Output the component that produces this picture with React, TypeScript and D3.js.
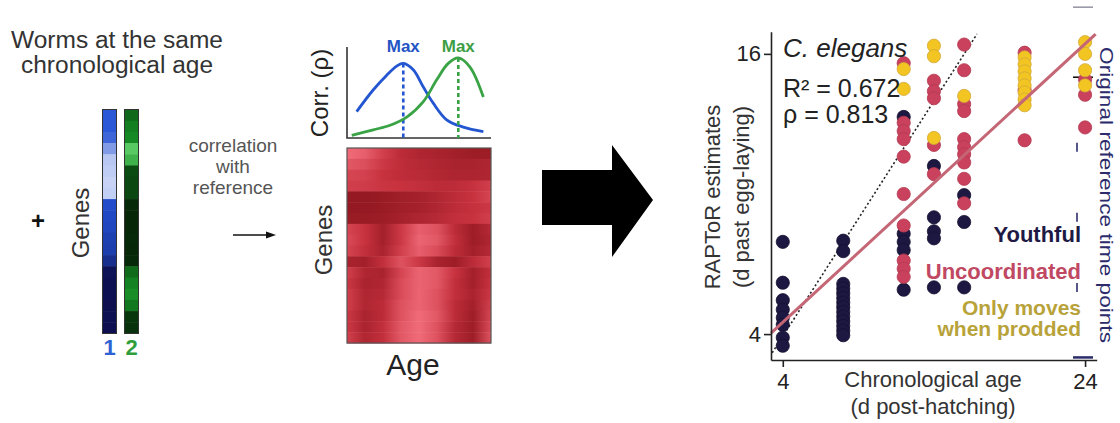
import * as d3 from 'd3'
import { useEffect, useRef } from 'react'

const FONT = "'Liberation Sans', Arial, Helvetica, sans-serif"

// gene expression strips of the two worms, top to bottom (0 = dark, 1 = light)
const worm1Expr = [0.52, 0.52, 0.57, 0.75, 0.9, 0.92, 0.94, 0.93, 0.46, 0.44, 0.42, 0.38, 0.36, 0.25, 0.05, 0.04, 0.04, 0.03, 0.04, 0.03]
const worm2Expr = [0.35, 0.45, 0.5, 0.85, 0.72, 0.22, 0.2, 0.2, 0.06, 0.05, 0.05, 0.06, 0.05, 0.06, 0.36, 0.46, 0.52, 0.42, 0.12, 0.1]

// schematic correlation profiles [age, rho]
const corrWorm1: [number, number][] = [
    [0.67, 0.29], [1.83, 0.53], [2.76, 0.69], [3.45, 0.79], [3.91, 0.82], [4.6, 0.75],
    [5.3, 0.56], [6.0, 0.38], [6.92, 0.2], [8.08, 0.12], [9.47, 0.07],
]
const corrWorm2: [number, number][] = [
    [0.33, 0.03], [1.83, 0.09], [2.99, 0.14], [4.15, 0.23], [5.3, 0.4], [6.23, 0.64],
    [7.03, 0.82], [7.73, 0.88], [8.54, 0.78], [9.47, 0.45],
]

// reference heatmap rows (genes) across age, 0 = dark red, 1 = light
const heatRows = [
    [0.95, 0.85, 0.6, 0.4, 0.3, 0.25, 0.2, 0.15, 0.15],
    [0.8, 0.72, 0.55, 0.42, 0.35, 0.3, 0.25, 0.25, 0.3],
    [0.65, 0.62, 0.5, 0.42, 0.38, 0.32, 0.28, 0.28, 0.3],
    [0.6, 0.58, 0.52, 0.5, 0.45, 0.4, 0.4, 0.48, 0.6],
    [0.08, 0.08, 0.12, 0.18, 0.22, 0.3, 0.4, 0.5, 0.65],
    [0.08, 0.08, 0.12, 0.18, 0.22, 0.3, 0.4, 0.48, 0.55],
    [0.12, 0.12, 0.15, 0.22, 0.28, 0.35, 0.45, 0.5, 0.6],
    [0.65, 0.5, 0.2, 0.55, 0.85, 0.75, 0.4, 0.15, 0.35],
    [0.7, 0.5, 0.2, 0.55, 0.9, 0.8, 0.45, 0.15, 0.3],
    [0.65, 0.45, 0.25, 0.6, 0.85, 0.7, 0.4, 0.2, 0.35],
    [0.25, 0.2, 0.45, 0.75, 0.55, 0.25, 0.15, 0.4, 0.6],
    [0.6, 0.3, 0.25, 0.65, 0.9, 0.8, 0.5, 0.2, 0.45],
    [0.55, 0.25, 0.3, 0.7, 0.9, 0.8, 0.45, 0.2, 0.5],
    [0.6, 0.3, 0.35, 0.7, 0.9, 0.75, 0.45, 0.25, 0.55],
    [0.6, 0.3, 0.4, 0.75, 0.9, 0.75, 0.4, 0.2, 0.6],
    [0.55, 0.25, 0.4, 0.75, 0.95, 0.8, 0.4, 0.15, 0.65],
    [0.55, 0.25, 0.45, 0.8, 0.95, 0.75, 0.35, 0.15, 0.7],
    [0.6, 0.3, 0.45, 0.8, 0.95, 0.75, 0.35, 0.15, 0.75],
]

// RAPToR estimates (d past egg-laying) by chronological age (d post-hatching)
const youthful: [number, number[]][] = [
    [4, [7.95, 6.2, 5.45, 5.05, 4.7, 4.4, 3.85, 3.5]],
    [8, [8.0, 7.55, 6.15, 5.95, 5.75, 5.55, 5.35, 5.15, 4.95, 4.75, 4.55, 4.35, 4.15, 3.95]],
    [12, [13.3, 8.3, 7.95, 7.6, 5.9]],
    [14, [11.2, 9.0, 8.4, 8.1, 6.0]],
    [16, [9.95, 8.8, 6.0]],
]
const uncoordinated: [number, number[]][] = [
    [12, [15.6, 13.05, 12.7, 12.35, 11.6, 10.0, 8.65, 7.15, 6.8, 6.45]],
    [14, [14.85, 14.4, 14.1, 12.1, 10.85]],
    [16, [16.4, 15.3, 13.85, 13.55, 12.35, 12.0, 11.7, 11.35, 10.65, 9.6]],
    [20, [16.05, 14.45, 12.3]],
    [24, [14.9, 14.25, 12.85]],
]
const prodded: [number, number[]][] = [
    [12, [15.35, 14.5]],
    [14, [16.35, 15.9, 12.4]],
    [16, [14.2]],
    [20, [15.85, 15.55, 15.25, 14.95, 14.65, 14.35, 14.05, 13.8]],
    [24, [16.5, 16.0, 15.3, 14.65]],
]
const refTimes = [3, 6, 9, 12, 15, 18]
const fitLine: [number, number][] = [[3.22, 4.04], [24.7, 16.85]]
const identityLine: [number, number][] = [[3.3, 3.2], [16.85, 16.85]]
const xTicks = [4, 24]
const yTicks = [4, 16]

const NAVY = '#1d1841'
const RED = '#c9415c'
const YELLOW = '#f3c522'

export default function App() {
    const svgRef = useRef<SVGSVGElement>(null)

    useEffect(() => {
        if (!svgRef.current) return
        const svg = d3.select(svgRef.current)
        svg.selectAll('*').remove()
        svg.style('font-family', FONT)
        const defs = svg.append('defs')

        const text = (x: number, y: number, s: string, size: number, opts: any = {}) => {
            const t = svg
                .append('text')
                .attr('x', x)
                .attr('y', y)
                .attr('font-size', size)
                .attr('fill', opts.fill || '#333')
                .attr('text-anchor', opts.anchor || 'middle')
                .attr('font-weight', opts.weight || 'normal')
                .attr('font-style', opts.style || 'normal')
                .text(s)
            if (opts.rotate) t.attr('transform', `rotate(${opts.rotate},${x},${y})`)
            return t
        }

        // ---------- left panel: two worms ----------
        text(117, 48, 'Worms at the same', 23).attr('textLength', 212).attr('lengthAdjust', 'spacingAndGlyphs')
        text(117, 73, 'chronological age', 23).attr('textLength', 192).attr('lengthAdjust', 'spacingAndGlyphs')
        text(38, 229, '+', 24, { weight: 'bold', fill: '#111' })
        text(89, 223, 'Genes', 24, { rotate: -90 })

        const blueCol = d3.scaleLinear<string>().domain([0, 0.5, 1]).range(['#0b0b48', '#2452d4', '#dde4fa'])
        const greenCol = d3.scaleLinear<string>().domain([0, 0.5, 1]).range(['#041c05', '#158a24', '#74e47e'])
        const stripY = d3.scaleBand<number>().domain(d3.range(worm1Expr.length)).range([109.5, 333.5])
        const strips = [
            { vals: worm1Expr, col: blueCol, x: 102.5, label: '1', lc: '#2f62d2' },
            { vals: worm2Expr, col: greenCol, x: 124.5, label: '2', lc: '#2f9e3c' },
        ]
        strips.forEach((s) => {
            svg.append('g')
                .selectAll('rect')
                .data(s.vals)
                .enter()
                .append('rect')
                .attr('x', s.x)
                .attr('y', (_, i) => stripY(i) as number)
                .attr('width', 14)
                .attr('height', stripY.bandwidth() + 0.5)
                .attr('fill', (d) => s.col(d))
            svg.append('rect')
                .attr('x', s.x)
                .attr('y', 109.5)
                .attr('width', 14)
                .attr('height', 224)
                .attr('fill', 'none')
                .attr('stroke', '#333')
                .attr('stroke-width', 1)
            text(s.x + 7, 355, s.label, 22, { weight: 'bold', fill: s.lc })
        })

        text(233, 152, 'correlation', 19, { fill: '#555' })
        text(233, 173, 'with', 19, { fill: '#555' })
        text(233, 194, 'reference', 19, { fill: '#555' })
        svg.append('line')
            .attr('x1', 233).attr('x2', 268).attr('y1', 235).attr('y2', 235)
            .attr('stroke', '#111').attr('stroke-width', 1.5)
        svg.append('path').attr('d', 'M266,231.5 L276,235 L266,238.5 Z').attr('fill', '#111')

        // ---------- middle: correlation profiles + reference heatmap ----------
        const ageX = d3.scaleLinear().domain([0, 10]).range([347, 491])
        const corrY = d3.scaleLinear().domain([0, 1]).range([138, 47])
        svg.append('path')
            .attr('d', `M347,47 L347,138 L491,138`)
            .attr('fill', 'none').attr('stroke', '#333').attr('stroke-width', 1.6)
        const line = d3.line<[number, number]>().x((d) => ageX(d[0])).y((d) => corrY(d[1])).curve(d3.curveCatmullRom)
        const profiles = [
            { data: corrWorm1, col: '#2356d0', lc: '#2453c4' },
            { data: corrWorm2, col: '#3aa346', lc: '#3d9e45' },
        ]
        profiles.forEach((p) => {
            svg.append('path').attr('d', line(p.data)).attr('fill', 'none').attr('stroke', p.col).attr('stroke-width', 2.8)
            const peak = p.data[d3.maxIndex(p.data, (d) => d[1])]
            svg.append('line')
                .attr('x1', ageX(peak[0])).attr('x2', ageX(peak[0]))
                .attr('y1', corrY(peak[1])).attr('y2', corrY(0))
                .attr('stroke', p.col).attr('stroke-width', 2.6).attr('stroke-dasharray', '4,3')
            text(ageX(peak[0]), 52, 'Max', 16, { weight: 'bold', fill: p.lc }).attr('textLength', 33).attr('lengthAdjust', 'spacingAndGlyphs')
        })
        text(328, 93, 'Corr. (ρ)', 24, { rotate: -90, fill: '#222' })

        const heatCol = d3.scaleLinear<string>().domain([0, 0.5, 1]).range(['#8a141c', '#c8323f', '#f4717f'])
        const heatY = d3.scaleBand<number>().domain(d3.range(heatRows.length)).range([148, 343])
        heatRows.forEach((row, r) => {
            const gid = `hr${r}`
            const grad = defs.append('linearGradient').attr('id', gid).attr('x1', '0').attr('x2', '1').attr('y1', '0').attr('y2', '0')
            row.forEach((v, i) => {
                grad.append('stop').attr('offset', i / (row.length - 1)).attr('stop-color', heatCol(v))
            })
            svg.append('rect')
                .attr('x', ageX(0)).attr('y', heatY(r) as number)
                .attr('width', ageX(10) - ageX(0)).attr('height', heatY.bandwidth() + 0.5)
                .attr('fill', `url(#${gid})`)
        })
        svg.append('rect')
            .attr('x', 347).attr('y', 148).attr('width', 144).attr('height', 195)
            .attr('fill', 'none').attr('stroke', '#555').attr('stroke-width', 1.2)
        text(332, 240, 'Genes', 24, { rotate: -90 })
        text(413, 375, 'Age', 30, { fill: '#222' })

        // big arrow
        svg.append('path')
            .attr('d', 'M542,170 L612,170 L612,145 L653,200 L612,257 L612,225 L542,225 Z')
            .attr('fill', '#000')

        // ---------- right: scatter ----------
        const x = d3.scaleLinear().domain([3.22, 24.77]).range([771, 1096.7])
        const y = d3.scaleLinear().domain([2.89, 16.95]).range([360, 31.7])

        // reference time points (right margin)
        refTimes.forEach((t) => {
            const horiz = t < 5 || t > 14
            svg.append('line')
                .attr('x1', horiz ? 1073 : 1077).attr('x2', horiz ? 1093 : 1077)
                .attr('y1', horiz ? y(t) : y(t) - 4.5).attr('y2', horiz ? y(t) : y(t) + 4.5)
                .attr('stroke', t > 16 ? '#9a9aa8' : t > 14 ? '#111' : '#2c2c6c')
                .attr('stroke-width', t < 5 ? 2.5 : 1.6)
        })
        text(1100, 195, 'Original reference time points', 19, { rotate: 90, fill: '#2c2c6c' })
            .attr('textLength', 296).attr('lengthAdjust', 'spacingAndGlyphs')

        const pt = d3.line<[number, number]>().x((d) => x(d[0])).y((d) => y(d[1]))
        svg.append('path').attr('d', pt(identityLine)).attr('stroke', '#222').attr('stroke-width', 1.6)
            .attr('stroke-dasharray', '2,2.4').attr('fill', 'none')

        const groups = [
            { data: youthful, fill: NAVY, stroke: '#151030' },
            { data: uncoordinated, fill: RED, stroke: '#b33a52' },
            { data: prodded, fill: YELLOW, stroke: '#d1a83a' },
        ]
        groups.forEach((g) => {
            const pts = g.data.flatMap(([day, vals]) => vals.map((v) => [day, v] as [number, number]))
            svg.append('g')
                .selectAll('circle')
                .data(pts)
                .enter()
                .append('circle')
                .attr('cx', (d) => x(d[0]))
                .attr('cy', (d) => y(d[1]))
                .attr('r', 6.6)
                .attr('fill', g.fill)
                .attr('stroke', g.stroke)
                .attr('stroke-width', 0.8)
        })

        svg.append('path').attr('d', pt(fitLine)).attr('stroke', '#c46676').attr('stroke-width', 3).attr('fill', 'none')

        const ax = svg.append('g').attr('transform', 'translate(0,360)')
            .call(d3.axisBottom(x).tickValues(xTicks).tickSizeInner(7).tickSizeOuter(0).tickPadding(6).tickFormat(d3.format('d')))
        const ay = svg.append('g').attr('transform', 'translate(771,0)')
            .call(d3.axisLeft(y).tickValues(yTicks).tickSizeInner(7).tickSizeOuter(0).tickPadding(3).tickFormat(d3.format('d')))
        ;[ax, ay].forEach((a) => {
            a.selectAll('path,line').attr('stroke', '#222').attr('stroke-width', 1.6)
            a.selectAll('text').attr('font-size', 22).attr('fill', '#222').attr('font-family', FONT)
        })

        text(933, 387, 'Chronological age', 22)
        text(933, 414, '(d post-hatching)', 22)
        text(720, 197, 'RAPToR estimates', 22, { rotate: -90 })
        text(749, 197, '(d past egg-laying)', 22, { rotate: -90 })

        text(783, 57, 'C. elegans', 26, { anchor: 'start', style: 'italic', fill: '#222' })
        text(783, 97, 'R² = 0.672', 25, { anchor: 'start', fill: '#222' })
        text(783, 123, 'ρ = 0.813', 25, { anchor: 'start', fill: '#222' })

        text(1081, 242, 'Youthful', 22, { anchor: 'end', weight: 'bold', fill: '#1f1a45' })
        text(1081, 279, 'Uncoordinated', 22, { anchor: 'end', weight: 'bold', fill: '#c04862' })
        text(1081, 315, 'Only moves', 21, { anchor: 'end', weight: 'bold', fill: '#b8a23a' })
        text(1081, 336, 'when prodded', 21, { anchor: 'end', weight: 'bold', fill: '#b8a23a' })
    }, [])

    return (
        <svg
            ref={svgRef}
            width={1120}
            height={423}
            style={{ position: 'absolute', left: 0, top: 0, background: '#fff' }}
        />
    )
}
